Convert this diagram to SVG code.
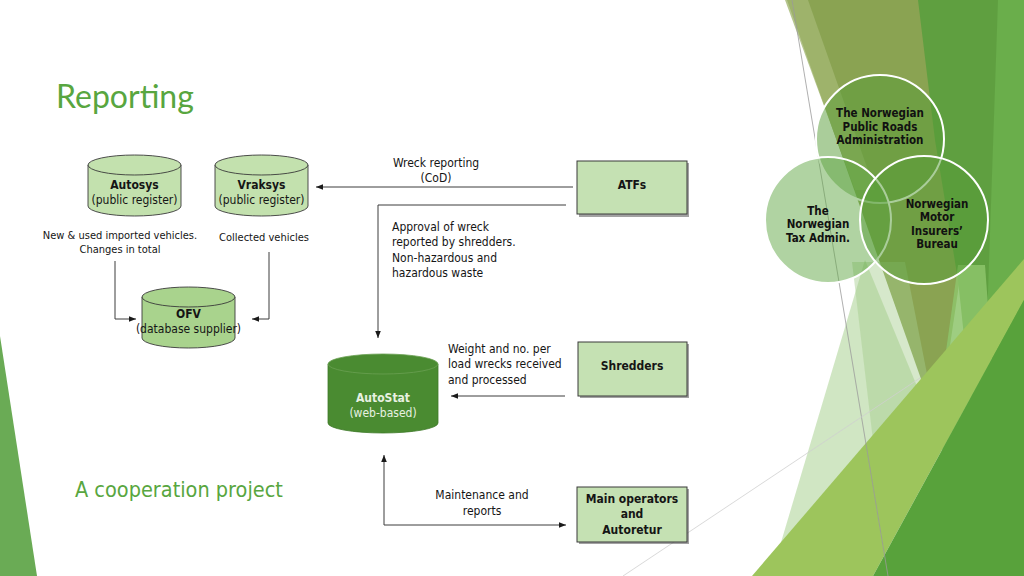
<svg xmlns="http://www.w3.org/2000/svg" width="1024" height="576" viewBox="0 0 1024 576">
<style>
.t{font-family:"DejaVu Sans Condensed","DejaVu Sans",sans-serif;font-stretch:condensed;font-size:12px;fill:#151515}
.s{font-size:11px}
.b{font-weight:bold}
.m{text-anchor:middle}
.box{fill:#c5e1b3;stroke:#3a3a3a;stroke-width:1}
.shadow{fill:#555;opacity:0.55}
.cyl{fill:#c3e1ae;stroke:#3a3a3a;stroke-width:0.9}
.cyl2{fill:#a9d38d;stroke:#3a3a3a;stroke-width:0.9}
.conn{fill:none;stroke:#3c3c3c;stroke-width:1}
.circ{fill:#559c36;fill-opacity:0.5;stroke:#fff;stroke-width:2}
.ct{font-family:"DejaVu Sans Condensed","DejaVu Sans",sans-serif;font-stretch:condensed;font-size:11.5px;font-weight:bold;fill:#111;text-anchor:middle}
</style>
<defs>
<marker id="arr" viewBox="0 0 10 10" refX="10" refY="5" markerWidth="7" markerHeight="7" markerUnits="userSpaceOnUse" orient="auto-start-reverse">
<path d="M0,1 L10,5 L0,9 Z" fill="#1a1a1a"/>
</marker>
</defs>
<rect width="1024" height="576" fill="#ffffff"/>
<g id="background">
<polygon points="0,336 0,576 37,576" fill="#6aab55"/>
<polygon points="787,0 1001,0 938,427" fill="#8aa352"/>
<polygon points="785,0 808,0 875,190 855,190" fill="#a2b672" opacity="0.8"/>
<polygon points="771,576 865,260 935,430 860,576" fill="#bcdcaa" opacity="0.7"/>
<polygon points="852,262 905,262 940,440 880,500" fill="#a3cc8c" opacity="0.45"/>
<polygon points="918,0 1024,0 1024,576 960,576 975,440 958,280 935,140" fill="#5f9f40"/>
<polygon points="998,0 1024,0 1024,576 985,380" fill="#6aae4b"/>
<polygon points="958,265 985,265 992,360 950,470 935,430" fill="#8dc46b" opacity="0.85"/>
<polygon points="752,576 920,380 1024,259 1024,300 873,576" fill="#9dc55c"/>
<polygon points="873,576 1024,300 1024,576" fill="#58a23b"/>
<line x1="792" y1="0" x2="888" y2="576" stroke="#9a9a9a" stroke-width="0.8"/>
<line x1="623" y1="576" x2="920" y2="378" stroke="#cfcfcf" stroke-width="0.8"/>
</g>
<g id="venn">
<g id="roads"><circle class="circ" cx="880" cy="139" r="64"/></g>
<g id="tax"><circle class="circ" cx="828" cy="220" r="63" style="fill:#62a745;fill-opacity:0.5"/></g>
<g id="insurers"><circle class="circ" cx="924" cy="220" r="64"/></g>
<text class="ct"><tspan x="880" y="117">The Norwegian</tspan><tspan x="880" y="131">Public Roads</tspan><tspan x="880" y="144">Administration</tspan></text>
<text class="ct"><tspan x="818" y="215">The</tspan><tspan x="818" y="228">Norwegian</tspan><tspan x="818" y="242">Tax Admin.</tspan></text>
<text class="ct"><tspan x="937" y="208">Norwegian</tspan><tspan x="937" y="221">Motor</tspan><tspan x="937" y="235">Insurers’</tspan><tspan x="937" y="248">Bureau</tspan></text>
</g>
<text x="56" y="108" font-family="Lato, 'Open Sans', sans-serif" font-size="32" fill="#58a640">Reporting</text>
<text x="75" y="497" font-family="'DejaVu Sans Condensed','DejaVu Sans',sans-serif" font-stretch="condensed" font-size="21.5" fill="#58a640">A cooperation project</text>
<g id="connectors">
<path class="conn" d="M573,187 H316" marker-end="url(#arr)"/>
<path class="conn" d="M566,205 H378 V338" marker-end="url(#arr)"/>
<path class="conn" d="M565,396 H451" marker-end="url(#arr)"/>
<path class="conn" d="M566,525 H384 V455" marker-start="url(#arr)" marker-end="url(#arr)"/>
<path class="conn" d="M115,261 V319 H136" marker-end="url(#arr)"/>
<path class="conn" d="M269,252 V319 H252" marker-end="url(#arr)"/>
<text class="t m"><tspan x="436" y="167">Wreck reporting</tspan><tspan x="436" y="182">(CoD)</tspan></text>
<text class="t"><tspan x="392" y="231">Approval of wreck</tspan><tspan x="392" y="246">reported by shredders.</tspan><tspan x="392" y="262">Non-hazardous and</tspan><tspan x="392" y="277">hazardous waste</tspan></text>
<text class="t"><tspan x="448" y="353">Weight and no. per</tspan><tspan x="448" y="368">load wrecks received</tspan><tspan x="448" y="384">and processed</tspan></text>
<text class="t m"><tspan x="482" y="499">Maintenance and</tspan><tspan x="482" y="515">reports</tspan></text>
<text class="t s m"><tspan x="120" y="239">New &amp; used imported vehicles.</tspan><tspan x="120" y="253">Changes in total</tspan></text>
<text class="t s m" x="264" y="241">Collected vehicles</text>
</g>
<g id="autosys">
<path class="cyl" d="M88,165 V206 A46.5,10 0 0 0 181,206 V165 Z"/>
<ellipse class="cyl" cx="134.5" cy="165" rx="46.5" ry="10"/>
<text class="t b m" x="134.5" y="189">Autosys</text>
<text class="t m" x="134.5" y="204">(public register)</text>
</g>
<g id="vraksys">
<path class="cyl" d="M215,165 V206 A46.5,10 0 0 0 308,206 V165 Z"/>
<ellipse class="cyl" cx="261.5" cy="165" rx="46.5" ry="10"/>
<text class="t b m" x="261.5" y="189">Vraksys</text>
<text class="t m" x="261.5" y="204">(public register)</text>
</g>
<g id="ofv">
<path class="cyl2" d="M142,297 V338 A46.5,10 0 0 0 235,338 V297 Z"/>
<ellipse class="cyl2" cx="188.5" cy="297" rx="46.5" ry="10"/>
<text class="t b m" x="188.5" y="318">OFV</text>
<text class="t m" font-size="10.5" x="188.5" y="333">(database supplier)</text>
</g>
<g id="autostat">
<path d="M328,364 V423 A55,10 0 0 0 438,423 V364 Z" fill="#4a8b31" stroke="#3f7a29" stroke-width="0.8"/>
<ellipse cx="383" cy="364" rx="55" ry="10" fill="#4a8b31" stroke="#6aa052" stroke-width="0.8"/>
<text class="t b m" x="383" y="402" style="fill:#e8f1e1">AutoStat</text>
<text class="t m" x="383" y="417" style="fill:#e8f1e1">(web-based)</text>
</g>
<g id="atfs">
<rect class="shadow" x="579" y="163" width="110" height="54"/>
<rect class="box" x="577" y="161" width="110" height="53"/>
<text class="t b m" x="632" y="189">ATFs</text>
</g>
<g id="shredders">
<rect class="shadow" x="580" y="344" width="109" height="54"/>
<rect class="box" x="578" y="342" width="109" height="54"/>
<text class="t b m" x="632" y="370">Shredders</text>
</g>
<g id="mainops">
<rect class="shadow" x="579" y="489" width="110" height="55"/>
<rect class="box" x="577" y="487" width="110" height="55"/>
<text class="t b m"><tspan x="632" y="503">Main operators</tspan><tspan x="632" y="518">and</tspan><tspan x="632" y="534">Autoretur</tspan></text>
</g>
</svg>
